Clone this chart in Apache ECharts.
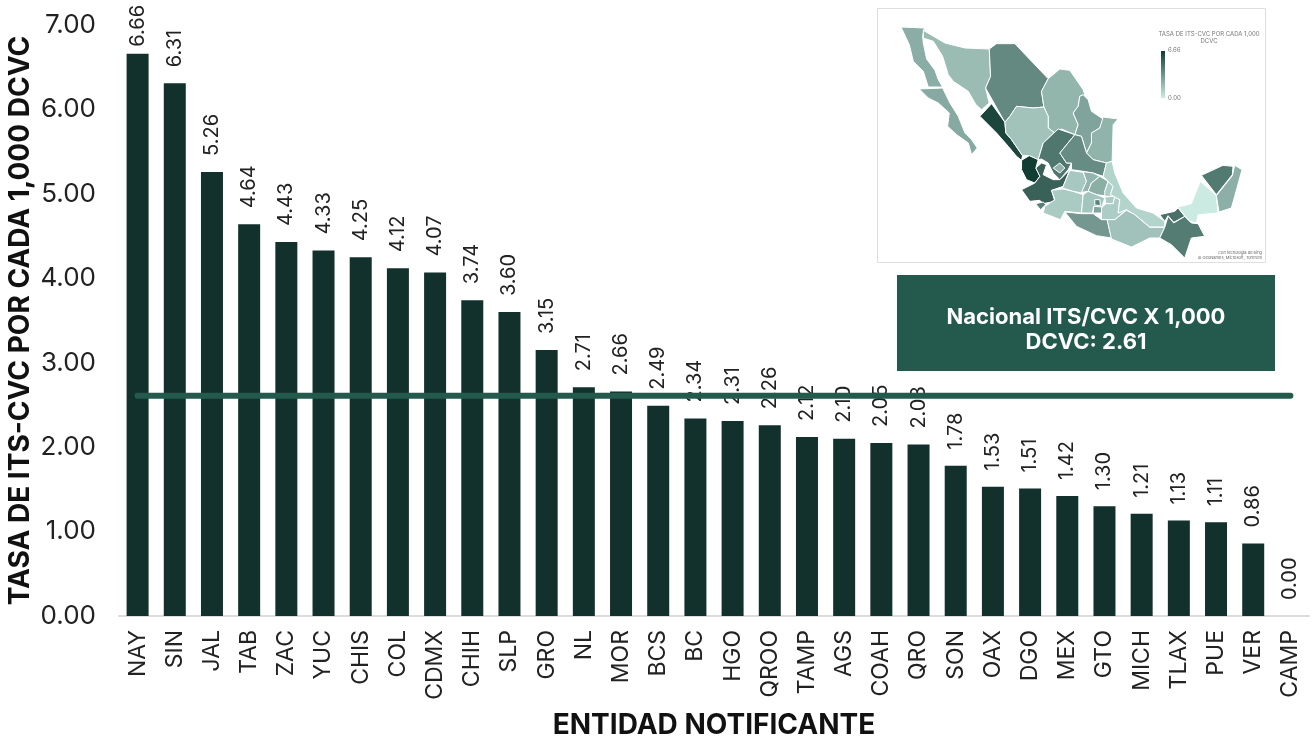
<!DOCTYPE html>
<html><head><meta charset="utf-8">
<style>html,body{margin:0;padding:0;background:#fff}#c{width:1314px;height:736px}</style>
<script src="https://cdn.jsdelivr.net/npm/echarts@6/dist/echarts.min.js"></script>
</head><body><div id="c"></div>
<script>
const categories=['NAY','SIN','JAL','TAB','ZAC','YUC','CHIS','COL','CDMX','CHIH','SLP','GRO','NL','MOR','BCS','BC','HGO','QROO','TAMP','AGS','COAH','QRO','SON','OAX','DGO','MEX','GTO','MICH','TLAX','PUE','VER','CAMP'];
const rates=[6.66,6.31,5.26,4.64,4.43,4.33,4.25,4.12,4.07,3.74,3.60,3.15,2.71,2.66,2.49,2.34,2.31,2.26,2.12,2.10,2.05,2.03,1.78,1.53,1.51,1.42,1.30,1.21,1.13,1.11,0.86,0.00];
const nationalRate=2.61;
// Simplified state outlines for the inset map (own planar coordinates)
const outlines={
BC:[[93,82],[163,85],[158,110],[160,130],[170,178],[195,212],[205,240],[218,262],[175,262],[160,215],[130,185],[118,135]],
BCS:[[148,268],[218,265],[240,310],[265,350],[285,400],[305,420],[322,445],[305,465],[295,430],[260,405],[233,380],[238,340],[205,310],[175,295]],
SON:[[160,92],[225,130],[285,145],[358,148],[362,230],[347,265],[358,310],[335,330],[318,315],[295,275],[250,245],[235,225],[218,170],[190,125],[160,115]],
CHIH:[[358,148],[380,132],[435,132],[490,190],[535,237],[515,275],[522,322],[490,325],[440,320],[420,350],[405,368],[375,315],[347,265],[362,230]],
COAH:[[535,237],[570,208],[600,212],[640,270],[645,285],[630,290],[625,320],[610,340],[625,375],[615,405],[575,388],[555,400],[535,385],[535,350],[522,322],[515,275]],
NL:[[640,285],[655,300],[665,335],[700,358],[690,385],[665,400],[665,430],[650,460],[635,410],[615,405],[625,375],[610,340],[625,320],[630,290]],
TAMP:[[700,352],[745,358],[730,375],[727,485],[710,490],[670,480],[650,460],[665,430],[665,400],[690,385]],
SIN:[[365,312],[405,368],[408,400],[425,420],[458,468],[455,482],[440,470],[415,440],[380,400],[330,350]],
DGO:[[405,368],[420,350],[440,320],[490,325],[522,322],[535,350],[535,385],[555,400],[565,388],[520,430],[505,480],[478,468],[458,468],[425,420],[408,400]],
ZAC:[[505,480],[520,430],[565,388],[615,405],[570,460],[590,490],[605,490],[595,510],[570,540],[550,520],[535,490],[515,478]],
SLP:[[615,405],[635,410],[650,460],[670,480],[710,490],[700,530],[670,520],[640,515],[605,510],[605,490],[590,490],[570,460]],
NAY:[[455,482],[478,468],[505,480],[498,505],[510,530],[495,550],[470,540],[455,510]],
AGS:[[550,505],[570,490],[585,505],[570,520]],
JAL:[[498,505],[515,490],[530,495],[520,525],[550,540],[570,540],[600,510],[580,560],[545,572],[555,605],[520,612],[510,602],[480,605],[455,570],[495,550],[510,530]],
COL:[[497,612],[520,607],[528,615],[512,630]],
MICH:[[555,600],[545,572],[580,568],[610,575],[640,585],[635,640],[585,635],[572,660],[520,640],[525,620]],
GTO:[[600,512],[640,518],[650,545],[635,580],[610,575],[578,565]],
QRO:[[640,516],[670,520],[690,530],[665,550],[655,575],[635,578],[650,545]],
HGO:[[690,530],[715,545],[705,575],[720,590],[680,585],[655,575],[665,550]],
MEX:[[655,575],[680,585],[705,595],[695,625],[672,620],[668,640],[635,640],[640,585]],
CDMX:[[675,600],[690,600],[692,618],[675,616]],
MOR:[[672,620],[697,622],[695,640],[670,640]],
TLAX:[[705,592],[735,590],[730,612],[708,612]],
PUE:[[715,545],[730,560],[722,585],[750,600],[745,640],[770,630],[735,660],[695,660],[695,625],[708,612],[730,612],[735,590],[705,590],[705,575]],
VER:[[727,485],[735,520],[760,580],[800,625],[850,640],[885,665],[885,682],[840,682],[795,645],[770,630],[745,640],[750,600],[722,585],[730,560],[715,545],[700,530],[710,490]],
GRO:[[585,637],[635,642],[670,642],[695,660],[712,660],[725,715],[680,708],[620,680]],
OAX:[[712,660],[735,660],[770,632],[795,645],[840,683],[885,683],[870,715],[840,715],[785,742],[725,718]],
CHIS:[[870,715],[885,683],[895,650],[912,670],[945,650],[965,670],[985,672],[1005,710],[965,715],[945,775],[905,735]],
TAB:[[870,645],[915,635],[925,625],[945,650],[912,668],[895,648],[885,665]],
CAMP:[[925,622],[965,612],[992,545],[1040,588],[1045,640],[985,645],[980,670],[960,665],[945,648]],
YUC:[[995,527],[1060,497],[1090,500],[1088,525],[1040,585]],
QROO:[[1040,588],[1088,528],[1095,497],[1117,510],[1095,590],[1085,625],[1048,637]]
};
const geoJson={type:'FeatureCollection',features:Object.keys(outlines).map(n=>{
  const ring=outlines[n].concat([outlines[n][0]]).map(p=>[p[0],-p[1]]);
  return {type:'Feature',properties:{name:n},geometry:{type:'Polygon',coordinates:[ring]}};
})};
echarts.registerMap('mx',geoJson);
const FONT='Inter';
const chart=echarts.init(document.getElementById('c'),null,{renderer:'canvas'});
chart.setOption({
  animation:false,backgroundColor:'#fff',textStyle:{fontFamily:FONT},
  grid:{left:119,right:5,top:25,bottom:120,containLabel:false,outerBoundsMode:'none'},
  xAxis:{type:'category',data:categories,
    axisLine:{lineStyle:{color:'#dcdcdc',width:2}},axisTick:{show:false},
    axisLabel:{rotate:90,interval:0,color:'#222',fontSize:23,fontFamily:FONT,margin:14},
    name:'ENTIDAD NOTIFICANTE',nameLocation:'middle',nameGap:96,nameMoveOverlap:false,
    nameTextStyle:{fontSize:28,fontWeight:'bold',color:'#111',fontFamily:FONT}},
  yAxis:{type:'value',min:0,max:7,interval:1,
    axisLine:{show:false},axisTick:{show:false},splitLine:{show:false},
    axisLabel:{color:'#222',fontSize:26,margin:23,fontFamily:FONT,padding:[3,0,0,0],formatter:v=>v.toFixed(2)},
    name:'TASA DE ITS-CVC POR CADA 1,000 DCVC',nameLocation:'middle',nameRotate:90,nameGap:84,nameMoveOverlap:false,
    nameTextStyle:{fontSize:28,fontWeight:'bold',color:'#111',fontFamily:FONT}},
  visualMap:{show:false,type:'continuous',seriesIndex:2,min:0,max:6.66,inRange:{color:['#cbeae2','#123d33']}},
  series:[
    {type:'bar',data:rates.map((v,i)=>i===0?{value:v,label:{distance:7}}:v),barWidth:22,itemStyle:{color:'#12312c'},
     label:{show:true,position:'top',rotate:90,distance:16,fontSize:20,color:'#222',fontFamily:FONT,formatter:p=>p.value.toFixed(2),align:'left',verticalAlign:'middle'}},
    {type:'line',data:categories.map(()=>nationalRate),symbol:'none',z:5,silent:true,
     lineStyle:{color:'#235a4d',width:6,cap:'round'}},
    {type:'map',map:'mx',aspectScale:1,left:901,top:27,width:341,height:231,silent:true,z:3,
     itemStyle:{borderColor:'#fff',borderWidth:1},label:{show:false},emphasis:{disabled:true},
     data:categories.map((c,i)=>({name:c,value:rates[i]}))}
  ],
  graphic:[
    {type:'rect',z:1,shape:{x:877.5,y:8.5,width:388,height:254},style:{fill:'#fff',stroke:'#dedede',lineWidth:1}},
    {type:'text',z:10,x:1209,y:31,style:{text:'TASA DE ITS-CVC POR CADA 1,000\nDCVC',align:'center',fontSize:6,lineHeight:7,fill:'#777',fontFamily:FONT}},
    {type:'rect',z:10,shape:{x:1161,y:51,width:4,height:47},style:{fill:new echarts.graphic.LinearGradient(0,0,0,1,[{offset:0,color:'#123d33'},{offset:1,color:'#cbeae2'}])}},
    {type:'text',z:10,x:1168,y:47,style:{text:rates[0].toFixed(2),fontSize:6,fill:'#777',fontFamily:FONT}},
    {type:'text',z:10,x:1168,y:95,style:{text:rates[rates.length-1].toFixed(2),fontSize:6,fill:'#777',fontFamily:FONT}},
    {type:'text',z:10,x:1262,y:250,style:{text:'Con tecnología de Bing\n© GeoNames, Microsoft, TomTom',align:'right',fontSize:4,lineHeight:5,fill:'#666',fontFamily:FONT}},
    {type:'rect',z:10,shape:{x:897,y:275,width:378,height:96},style:{fill:'#235a4d'}},
    {type:'text',z:11,x:1086,y:330,style:{text:'Nacional ITS/CVC X 1,000\nDCVC: '+nationalRate.toFixed(2),align:'center',verticalAlign:'middle',fontSize:22,lineHeight:25,fontWeight:'bold',fill:'#fff',fontFamily:FONT}}
  ]
});
</script></body></html>
